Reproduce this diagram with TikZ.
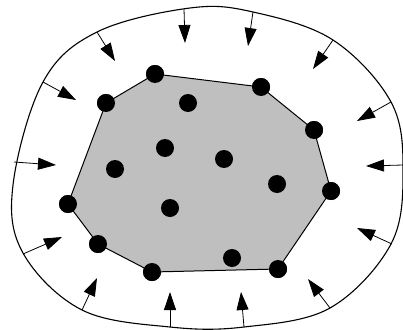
\documentclass[tikz,border=0pt]{standalone}
\usetikzlibrary{arrows.meta}
\begin{document}
\begin{tikzpicture}[x=1pt,y=-1pt,
  dot/.style={circle,fill=black,inner sep=0pt,minimum size=18pt},
  blob/.style={draw=black,line width=1.1pt},
  push/.style={draw=black,line width=0.8pt,-{Triangle[length=18pt,width=12pt]}}]
\useasboundingbox (0,0) rectangle (403,329);
% outer curve
\draw[blob] plot[smooth cycle,tension=0.6] coordinates {
  (190,8) (253,12) (333,40) (391,102) (403,170) (391,244) (330,308)
  (244,327) (170,327) (82,310) (23,253) (13,185) (43,82) (97,32)};
% hull vertices
\node[dot] (h1) at (155,74) {};
\node[dot] (h2) at (261,87) {};
\node[dot] (h3) at (314,130) {};
\node[dot] (h4) at (331,191) {};
\node[dot] (h5) at (278,269) {};
\node[dot] (h6) at (152,272) {};
\node[dot] (h7) at (98,244) {};
\node[dot] (h8) at (68,204) {};
\node[dot] (h9) at (106,103) {};
\fill[black!25] (h1.center) -- (h2.center) -- (h3.center) -- (h4.center) -- (h5.center)
  -- (h6.center) -- (h7.center) -- (h8.center) -- (h9.center) -- cycle;
\draw[line width=1pt] (h1.center) -- (h2.center) -- (h3.center) -- (h4.center) -- (h5.center)
  -- (h6.center) -- (h7.center) -- (h8.center) -- (h9.center) -- cycle;
% redraw hull dots on top of the filled hull
\foreach \n in {h1,h2,h3,h4,h5,h6,h7,h8,h9} \fill (\n) circle (9pt);
% interior points
\node[dot] (p1) at (188,103) {};
\node[dot] (p2) at (165,148) {};
\node[dot] (p3) at (224,159) {};
\node[dot] (p4) at (115,169) {};
\node[dot] (p5) at (170,208) {};
\node[dot] (p6) at (277,184) {};
\node[dot] (p7) at (232,258) {};
% arrows
\coordinate (s1) at (97,32);   \coordinate (t1) at (115,61);
\coordinate (s2) at (184,9);   \coordinate (t2) at (185,43);
\coordinate (s3) at (253,12);  \coordinate (t3) at (248,46);
\coordinate (s4) at (333,40);  \coordinate (t4) at (313,69);
\coordinate (s5) at (391,102); \coordinate (t5) at (357,121);
\coordinate (s6) at (403,165); \coordinate (t6) at (366,166);
\coordinate (s7) at (392,244); \coordinate (t7) at (357,228);
\coordinate (s8) at (330,308); \coordinate (t8) at (308,279);
\coordinate (s9) at (244,327); \coordinate (t9) at (241,292);
\coordinate (s10) at (170,327); \coordinate (t10) at (170,292);
\coordinate (s11) at (82,310); \coordinate (t11) at (97,278);
\coordinate (s12) at (23,254); \coordinate (t12) at (62,237);
\coordinate (s13) at (14,162); \coordinate (t13) at (56,165);
\coordinate (s14) at (43,82);  \coordinate (t14) at (76,100);
\foreach \i in {1,...,14} \draw[push] (s\i) -- (t\i);
\end{tikzpicture}
\end{document}
